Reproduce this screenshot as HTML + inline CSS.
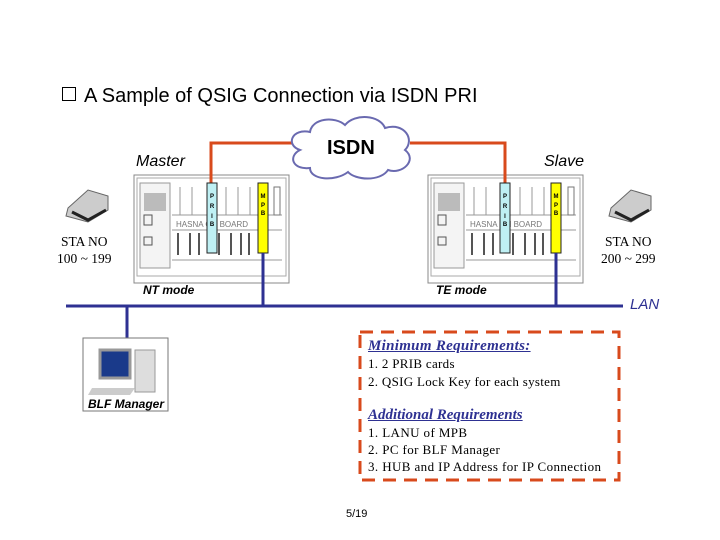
<!DOCTYPE html>
<html><head><meta charset="utf-8"><style>
body{margin:0;width:720px;height:540px;background:#fff;overflow:hidden;position:relative;font-family:"Liberation Sans",sans-serif}
.t{position:absolute;white-space:nowrap}
.s{font-family:"Liberation Serif",serif}
</style></head><body>
<svg width="720" height="540" style="position:absolute;left:0;top:0">
<defs>
<g id="cab">
<rect x="0" y="0" width="155" height="108" fill="#fff" stroke="#888" stroke-width="1"/>
<rect x="3" y="3" width="149" height="98" fill="#fff" stroke="#aaa"/>
<rect x="6" y="8" width="30" height="85" fill="#f4f4f4" stroke="#999"/>
<rect x="10" y="18" width="22" height="18" fill="#bbb"/>
<rect x="10" y="40" width="8" height="10" fill="none" stroke="#555"/>
<rect x="10" y="62" width="8" height="8" fill="none" stroke="#555"/>
<line x1="38" y1="40" x2="148" y2="40" stroke="#999"/>
<line x1="38" y1="55" x2="148" y2="55" stroke="#999"/>
<line x1="38" y1="85" x2="148" y2="85" stroke="#999"/>
<g stroke="#555" stroke-width="2">
<line x1="44" y1="58" x2="44" y2="80"/><line x1="56" y1="58" x2="56" y2="80"/><line x1="65" y1="58" x2="65" y2="80"/><line x1="85" y1="58" x2="85" y2="80"/><line x1="97" y1="58" x2="97" y2="80"/><line x1="107" y1="58" x2="107" y2="80"/><line x1="115" y1="58" x2="115" y2="80"/>
</g>
<g stroke="#999"><line x1="46" y1="12" x2="46" y2="40"/><line x1="58" y1="12" x2="58" y2="40"/><line x1="92" y1="12" x2="92" y2="40"/><line x1="104" y1="12" x2="104" y2="40"/><line x1="116" y1="12" x2="116" y2="40"/></g>
<rect x="140" y="12" width="6" height="28" fill="none" stroke="#777"/>
<text x="42" y="52" font-size="8" fill="#777" font-family="Liberation Sans">HASNA  ON BOARD</text>
<line x1="3" y1="101" x2="152" y2="101" stroke="#aaa"/>
</g>
</defs>
<use href="#cab" x="134" y="175"/>
<use href="#cab" x="428" y="175"/>
<g stroke="#d84a1c" stroke-width="3" fill="none">
<polyline points="211,183 211,143 292,143"/>
<polyline points="410,143 505,143 505,183"/>
</g>
<rect x="207" y="183" width="10" height="70" fill="#bff0f4" stroke="#222"/>
<rect x="258" y="183" width="10" height="70" fill="#ffff00" stroke="#222"/>
<rect x="500" y="183" width="10" height="70" fill="#bff0f4" stroke="#222"/>
<rect x="551" y="183" width="10" height="70" fill="#ffff00" stroke="#222"/>
<g font-size="6" font-weight="bold" font-family="Liberation Sans" text-anchor="middle">
<text x="212" y="198">P</text><text x="212" y="208">R</text><text x="212" y="218">I</text><text x="212" y="226">B</text>
<text x="263" y="198">M</text><text x="263" y="207">P</text><text x="263" y="215">B</text>
<text x="505" y="198">P</text><text x="505" y="208">R</text><text x="505" y="218">I</text><text x="505" y="226">B</text>
<text x="556" y="198">M</text><text x="556" y="207">P</text><text x="556" y="215">B</text>
</g>
<g stroke="#2e3192" stroke-width="3" fill="none">
<line x1="66" y1="306" x2="623" y2="306"/>
<line x1="263" y1="253" x2="263" y2="306"/>
<line x1="556" y1="253" x2="556" y2="306"/>
<line x1="127" y1="306" x2="127" y2="338"/>
</g>
<g fill="#fff" stroke="#6a6ab0" stroke-width="2">
<path d="M300,150 C285,145 292,128 310,132 C312,118 335,116 345,125 C355,113 380,115 385,128 C405,122 415,140 405,150 C418,160 402,175 388,170 C380,182 355,180 348,172 C335,182 310,180 310,168 C292,170 288,156 300,150 Z"/>
</g>
<g>
<path d="M68,208 L88,190 L108,196 L108,210 L88,222 L66,216 Z" fill="#ccc" stroke="#666"/>
<path d="M72,212 L88,220 L106,210" fill="none" stroke="#222" stroke-width="3"/>
<path d="M611,208 L631,190 L651,196 L651,210 L631,222 L609,216 Z" fill="#ccc" stroke="#666"/>
<path d="M615,212 L631,220 L649,210" fill="none" stroke="#222" stroke-width="3"/>
</g>
<rect x="83" y="338" width="85" height="73" fill="#fff" stroke="#777"/>
<rect x="100" y="350" width="30" height="28" fill="#1a3a8a" stroke="#999" stroke-width="3"/>
<rect x="135" y="350" width="20" height="42" fill="#ddd" stroke="#999"/>
<path d="M92,388 L135,388 L130,395 L88,395 Z" fill="#ccc"/>
<rect x="360" y="332" width="259" height="148" fill="none" stroke="#d84a1c" stroke-width="3" stroke-dasharray="13,8"/>
</svg>
<div class="t" style="left:62px;top:85px;font-size:20px"><span style="display:inline-block;width:12px;height:12px;border:1.5px solid #000;vertical-align:1px;margin-right:8px"></span>A Sample of QSIG Connection via ISDN PRI</div>
<div class="t" style="left:327px;top:137px;font-size:20px;font-weight:bold">ISDN</div>
<div class="t" style="left:136px;top:153px;font-size:16px;font-style:italic">Master</div>
<div class="t" style="left:544px;top:153px;font-size:16px;font-style:italic">Slave</div>
<div class="t s" style="left:57px;top:233px;font-size:13.5px;text-align:center;line-height:17px">STA NO<br>100 ~ 199</div>
<div class="t s" style="left:601px;top:233px;font-size:13.5px;text-align:center;line-height:17px">STA NO<br>200 ~ 299</div>
<div class="t" style="left:143px;top:283px;font-size:12px;font-style:italic;font-weight:bold">NT mode</div>
<div class="t" style="left:436px;top:283px;font-size:12px;font-style:italic;font-weight:bold">TE mode</div>
<div class="t" style="left:630px;top:296px;font-size:15px;font-style:italic;color:#2e3192">LAN</div>
<div class="t" style="left:88px;top:397px;font-size:12px;font-style:italic;font-weight:bold">BLF Manager</div>
<div class="t s" style="left:368px;top:338px;font-size:14px;line-height:17px;letter-spacing:0.3px">
<span style="font-style:italic;font-weight:bold;text-decoration:underline;color:#2e3192;font-size:15px">Minimum Requirements:</span><br>
<span style="font-size:13px">1. 2 PRIB cards<br>2. QSIG Lock Key for each system</span></div>
<div class="t s" style="left:368px;top:406px;font-size:13px;line-height:17px;letter-spacing:0.4px">
<span style="font-style:italic;font-weight:bold;text-decoration:underline;color:#2e3192;font-size:15px;letter-spacing:0">Additional Requirements</span><br>
1. LANU of MPB<br>2. PC for BLF Manager<br>3. HUB and IP Address for IP Connection</div>
<div class="t" style="left:346px;top:508px;font-size:11px">5/19</div>
</body></html>
